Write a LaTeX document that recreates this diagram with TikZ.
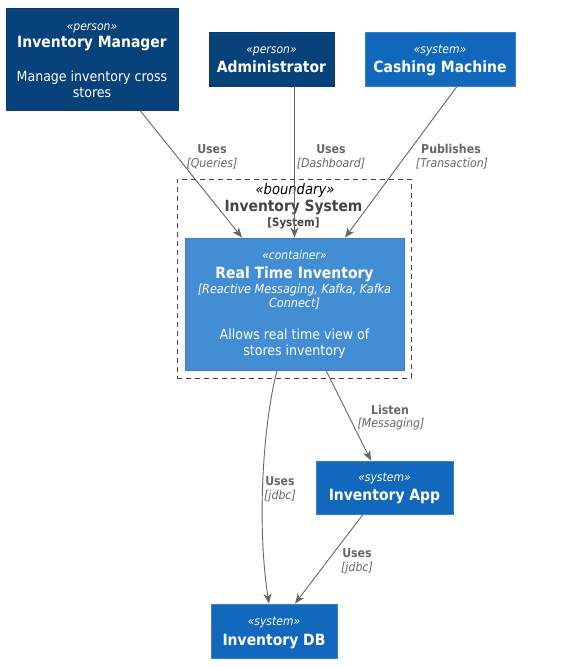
\documentclass[tikz,border=0pt]{standalone}
\usepackage{fontspec}
\setmainfont{DejaVu Sans Condensed}
\usetikzlibrary{arrows.meta,calc}
\definecolor{personfill}{HTML}{08427B}
\definecolor{persondraw}{HTML}{073B6F}
\definecolor{sysfill}{HTML}{1168BD}
\definecolor{sysdraw}{HTML}{3C7FC0}
\definecolor{contfill}{HTML}{438DD5}
\definecolor{contdraw}{HTML}{3C7FC0}
\definecolor{relgray}{HTML}{666666}
\definecolor{bndgray}{HTML}{444444}
\begin{document}
\begin{tikzpicture}[x=1pt,y=-1pt,
  personbox/.style={draw=persondraw,fill=personfill,line width=0.8pt,inner sep=0pt},
  sysbox/.style={draw=sysdraw,fill=sysfill,line width=0.8pt,inner sep=0pt},
  contbox/.style={draw=contdraw,fill=contfill,line width=0.8pt,inner sep=0pt},
  bndbox/.style={draw=bndgray,dash pattern=on 5pt off 4pt,line width=0.8pt,inner sep=0pt},
  txt/.style={inner sep=0pt,anchor=base,text=white},
  stereo/.style={txt,font=\fontsize{12}{14}\selectfont\itshape},
  ttl/.style={txt,font=\fontsize{15.5}{17}\selectfont\bfseries},
  dsc/.style={txt,font=\fontsize{14}{16}\selectfont},
  tech/.style={txt,font=\fontsize{12.5}{14}\selectfont\itshape},
  elab/.style={inner sep=0pt,anchor=base,text=relgray,font=\fontsize{12.2}{14}\selectfont\bfseries},
  etech/.style={inner sep=0pt,anchor=base,text=relgray,font=\fontsize{12.2}{14}\selectfont\itshape},
  rel/.style={draw=relgray,line width=0.9pt,-{Stealth[length=10pt,width=8pt,inset=3pt]}}
]
\useasboundingbox (0,0) rectangle (567,667);

% boundary
\node[bndbox,minimum width=234pt,minimum height=199pt] (bnd) at (294,278.5) {};
\node[inner sep=0pt,anchor=base,font=\fontsize{14.6}{16}\selectfont\itshape] (bnd-st) at (295,194) {«boundary»};
\node[inner sep=0pt,anchor=base,text=bndgray,font=\fontsize{15.4}{17}\selectfont\bfseries] (bnd-t) at (293.5,211) {Inventory System};
\node[inner sep=0pt,anchor=base,text=bndgray,font=\fontsize{11.4}{13}\selectfont\bfseries] (bnd-k) at (293.5,226) {[System]};

% boxes
\node[personbox,minimum width=172pt,minimum height=102pt] (im) at (92,59) {};
\node[personbox,minimum width=125pt,minimum height=54pt] (adm) at (271.5,59) {};
\node[sysbox,minimum width=150pt,minimum height=54pt] (cm) at (440,59) {};
\node[contbox,minimum width=219pt,minimum height=132pt] (rti) at (294.5,304) {};
\node[sysbox,minimum width=137pt,minimum height=53pt] (app) at (384.5,487.5) {};
\node[sysbox,minimum width=126pt,minimum height=54pt] (db) at (274,631) {};

% box texts
\node[stereo] (im-st) at (92,30) {«person»};
\node[ttl] (im-t) at (92,47) {Inventory Manager};
\node[dsc] (im-d1) at (92,81) {Manage inventory cross};
\node[dsc] (im-d2) at (92,97) {stores};

\node[stereo] (adm-st) at (271.5,53) {«person»};
\node[ttl] (adm-t) at (271.5,72.5) {Administrator};

\node[stereo] (cm-st) at (440,53) {«system»};
\node[ttl] (cm-t) at (440,72.5) {Cashing Machine};

\node[stereo] (rti-st) at (294.5,259.5) {«container»};
\node[ttl] (rti-t) at (294.5,278) {Real Time Inventory};
\node[tech] (rti-k1) at (294.5,293) {[Reactive Messaging, Kafka, Kafka};
\node[tech] (rti-k2) at (294.5,307) {Connect]};
\node[dsc] (rti-d1) at (294.5,339) {Allows real time view of};
\node[dsc] (rti-d2) at (294.5,355) {stores inventory};

\node[stereo] (app-st) at (384.5,481.5) {«system»};
\node[ttl] (app-t) at (384.5,500.5) {Inventory App};

\node[stereo] (db-st) at (274,625.5) {«system»};
\node[ttl] (db-t) at (274,645) {Inventory DB};

% relations
\draw[rel] ($(im.south)+(48,0)$) -- ($(rti.north)+(-52.5,0)$);
\draw[rel] (rti.north |- adm.south) -- (rti.north);
\draw[rel] ($(cm.south)+(17,0)$) -- ($(rti.north)+(50.5,0)$);
\draw[rel] ($(rti.south)+(-17.5,0)$) .. controls (264,420) and (256,520) .. ($(db.north)+(-5,0)$);
\draw[rel] ($(rti.south)+(31.5,0)$) -- ($(app.north)+(-13.5,0)$);
\draw[rel] ($(app.south)+(-21.5,0)$) -- ($(db.north)+(21,0)$);

% relation labels
\node[elab] (l1a) at (212,153) {Uses};
\node[etech] (l1b) at (212,167) {[Queries]};
\node[elab] (l2a) at (331,153) {Uses};
\node[etech] (l2b) at (331,167) {[Dashboard]};
\node[elab] (l3a) at (451,153) {Publishes};
\node[etech] (l3b) at (452,167) {[Transaction]};
\node[elab] (l4a) at (280,485) {Uses};
\node[etech] (l4b) at (280,499) {[jdbc]};
\node[elab] (l5a) at (390,414) {Listen};
\node[etech] (l5b) at (391,427) {[Messaging]};
\node[elab] (l6a) at (357,557) {Uses};
\node[etech] (l6b) at (357,571) {[jdbc]};
\end{tikzpicture}
\end{document}
